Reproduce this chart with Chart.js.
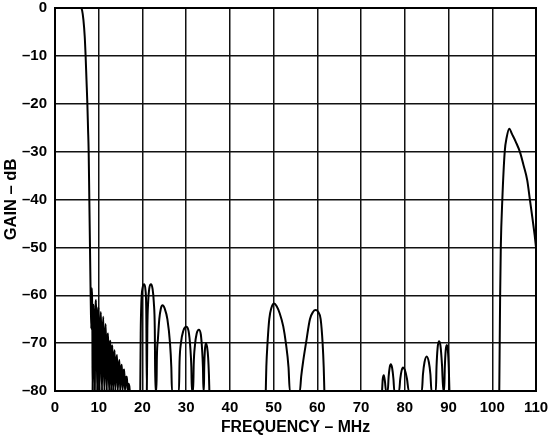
<!DOCTYPE html>
<html>
<head>
<meta charset="utf-8">
<script src="https://cdn.jsdelivr.net/npm/chart.js@4"></script>
<style>
    body { margin: 0; background: #fff; }
    canvas { display: block; }
</style>
</head>
<body>
<canvas id="gain-chart" width="550" height="437"></canvas>
<script>
// 轴刻度
const freqTicks = [0, 10, 20, 30, 40, 50, 60, 70, 80, 90, 100, 110];
const gainTicks = [0, -10, -20, -30, -40, -50, -60, -70, -80];

// 通带及过渡带
const passbandFreq = [0, 5.5, 5.9, 6.2, 6.5, 6.8, 7.0, 7.2, 7.4, 7.55, 7.7, 7.85, 8.0, 8.15];
const passbandGain = [0, 0, 0, -0.5, -2.5, -6, -10, -15, -20, -25, -30, -40, -50, -60];

// 8-17 MHz 纹波
const rippleFreq = [8.15, 8.3, 8.4, 8.55, 8.6, 8.7, 8.85, 9.0, 9.1, 9.25, 9.4, 9.55, 9.65, 9.8, 9.95,
    10.1, 10.2, 10.35, 10.5, 10.65, 10.75, 10.9, 11.05, 11.2, 11.3, 11.45, 11.6, 11.75, 11.85,
    12.0, 12.15, 12.3, 12.4, 12.55, 12.7, 12.85, 13.0, 13.15, 13.3, 13.5, 13.65, 13.8,
    14.0, 14.2, 14.35, 14.55, 14.75, 14.9, 15.1, 15.3, 15.45, 15.65, 15.85, 16.0,
    16.25, 16.45, 16.6, 16.8, 17.0, 17.1];
const rippleGain = [-60, -67, -58.5, -68, -80, -66, -62, -70, -80, -64, -61, -69, -80, -66, -62.5,
    -72, -80, -67, -63.5, -72, -80, -68, -64.5, -74, -80, -69, -66, -75, -80,
    -70, -68, -76, -80, -71, -69.5, -80, -72, -70.5, -80, -73, -71.5, -80,
    -74, -72.5, -80, -75, -73.5, -80, -75.5, -74.5, -80, -76, -75.5, -80,
    -77, -77, -80, -78.5, -79, -80];

// 20-35 MHz 旁瓣
const lobesLowFreq = [19.5, 19.6, 19.75, 20.0, 20.4, 20.7, 20.88, 21.0,
    21.12, 21.3, 21.55, 21.95, 22.3, 22.6, 22.82, 22.95,
    23.2, 23.3, 23.55, 23.85, 24.2, 24.6, 25.1, 25.7, 26.3, 26.6, 26.75,
    28.35, 28.48, 28.8, 29.35, 30.0, 30.55, 30.95, 31.18, 31.3,
    31.6, 31.72, 32.0, 32.4, 32.9, 33.35, 33.65, 33.83, 33.95,
    34.05, 34.13, 34.28, 34.5, 34.78, 35.02, 35.2, 35.3];
const lobesLowGain = [-80, -68, -61.5, -58.6, -57.7, -59, -64, -80,
    -67, -61.5, -58.6, -57.7, -58.6, -61.5, -67, -80,
    -80, -73, -69, -65, -62.8, -62.1, -62.8, -65, -70, -75, -80,
    -80, -74, -70, -67.4, -66.6, -67.5, -71, -75, -80,
    -80, -74.5, -70.5, -68, -67.2, -68.2, -71.5, -75, -80,
    -80, -75, -71.5, -70, -70.8, -73, -76.5, -80];

// 50、60 MHz 旁瓣
const lobesMidFreq = [48.2, 48.33, 48.6, 49.0, 49.5, 50.1, 50.7, 51.4, 52.2, 52.8, 53.4, 53.7,
    56.0, 56.3, 56.8, 57.4, 58.3, 59.0, 59.6, 60.2, 60.75, 61.2, 61.45, 61.6];
const lobesMidGain = [-80, -75, -70, -65, -62.6, -61.7, -62.3, -63.8, -66.5, -70, -75, -80,
    -80, -77, -73.5, -70, -65, -63.5, -63.1, -63.5, -65, -70, -75, -80];

// 75-90 MHz 旁瓣
const lobesHighFreq = [74.8, 74.95, 75.2, 75.45, 75.7,
    76.1, 76.3, 76.55, 76.8, 77.1, 77.4, 77.6,
    78.7, 78.95, 79.25, 79.6, 80.0, 80.5, 80.9,
    83.9, 84.15, 84.5, 85.0, 85.5, 85.85, 86.1,
    87.1, 87.25, 87.5, 87.8, 88.15, 88.5, 88.8,
    89.0, 89.15, 89.35, 89.6, 89.85, 90.05, 90.2];
const lobesHighGain = [-80, -77.5, -76.7, -78, -80,
    -80, -77, -75, -74.4, -75.2, -77.5, -80,
    -80, -77.5, -75.8, -75.1, -75.6, -77.5, -80,
    -80, -76.5, -74, -72.8, -74, -76.5, -80,
    -80, -75, -71, -69.6, -70.5, -74.5, -80,
    -80, -75, -71.5, -70.4, -71.5, -75, -80];

// 镜像响应 (~104 MHz)
const imageFreq = [101.6, 101.7, 101.8, 101.95, 102.3, 102.85, 103.3, 103.9, 104.5, 105.4, 106.3, 107.2, 108.0, 108.6, 109.2, 109.7, 110];
const imageGain = [-80, -70, -60, -50, -40, -30, -27, -25.2, -26.3, -28, -30, -33, -36, -40, -44, -47.5, -50];

const FONT = "Arial, 'Liberation Sans', Helvetica, sans-serif";

function toPoints(xs, ys) {
    return xs.map((x, i) => ({ x: x, y: ys[i] }));
}

function makeSet(xs, ys) {
    return {
        data: toPoints(xs, ys),
        borderColor: '#000',
        borderWidth: 2,
        pointRadius: 0,
        fill: false,
        cubicInterpolationMode: 'monotone'
    };
}

function dashLabel(value) {
    return value < 0 ? '\u2013' + Math.abs(value) : String(value);
}

const gridLine = {
    color: '#111',
    lineWidth: 1.5,
    drawTicks: false
};

new Chart(document.getElementById('gain-chart'), {
    type: 'line',
    data: {
        datasets: [
            makeSet(passbandFreq, passbandGain),
            makeSet(rippleFreq, rippleGain),
            makeSet(lobesLowFreq, lobesLowGain),
            makeSet(lobesMidFreq, lobesMidGain),
            makeSet(lobesHighFreq, lobesHighGain),
            makeSet(imageFreq, imageGain)
        ]
    },
    options: {
        responsive: false,
        animation: false,
        layout: {
            padding: { left: 0, right: 14, top: 8, bottom: 0 }
        },
        plugins: {
            legend: { display: false },
            tooltip: { enabled: false }
        },
        scales: {
            x: {
                type: 'linear',
                min: freqTicks[0],
                max: freqTicks[freqTicks.length - 1],
                afterBuildTicks: function(scale) {
                    scale.ticks = freqTicks.map(v => ({ value: v }));
                },
                afterFit: function(scale) {
                    scale.height = 46;
                    scale.paddingLeft = 0;
                    scale.paddingRight = 0;
                },
                grid: gridLine,
                border: { color: '#000', width: 2 },
                ticks: {
                    color: '#000',
                    padding: 8,
                    maxRotation: 0,
                    font: { family: FONT, size: 15, weight: 'bold' },
                    callback: dashLabel
                },
                title: {
                    display: true,
                    text: 'FREQUENCY \u2013 MHz',
                    color: '#000',
                    padding: { top: 0, bottom: 0 },
                    font: { family: FONT, size: 15.8, weight: 'bold' }
                }
            },
            y: {
                type: 'linear',
                min: gainTicks[gainTicks.length - 1],
                max: gainTicks[0],
                afterBuildTicks: function(scale) {
                    scale.ticks = gainTicks.slice().reverse().map(v => ({ value: v }));
                },
                afterFit: function(scale) {
                    scale.width = 55;
                    scale.paddingTop = 0;
                    scale.paddingBottom = 0;
                },
                grid: gridLine,
                border: { color: '#000', width: 2 },
                ticks: {
                    color: '#000',
                    padding: 8,
                    font: { family: FONT, size: 15, weight: 'bold' },
                    callback: dashLabel
                },
                title: {
                    display: true,
                    text: 'GAIN \u2013 dB',
                    color: '#000',
                    padding: { top: 2, bottom: 0 },
                    font: { family: FONT, size: 16.5, weight: 'bold' }
                }
            }
        }
    },
    plugins: [{
        // 四周边框
        id: 'frame',
        afterDraw(chart) {
            const a = chart.chartArea;
            const ctx = chart.ctx;
            ctx.save();
            ctx.strokeStyle = '#000';
            ctx.lineWidth = 2;
            ctx.strokeRect(a.left, a.top, a.right - a.left, a.bottom - a.top);
            ctx.restore();
        }
    }]
});
</script>
</body>
</html>
